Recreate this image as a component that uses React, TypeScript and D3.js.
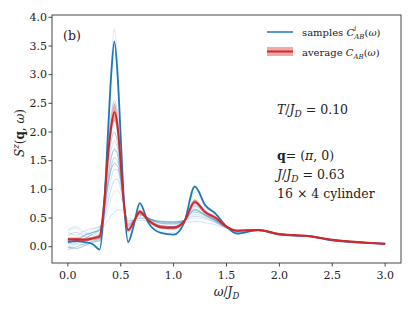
import React from 'react';
import * as d3 from 'd3';

// frequency grid shared by all curves
const omega = [0, 0.08, 0.16, 0.24, 0.3, 0.34, 0.38, 0.41, 0.44, 0.47, 0.5, 0.53, 0.57, 0.62, 0.68, 0.76, 0.88, 1.0, 1.1, 1.2, 1.3, 1.4, 1.5, 1.6, 1.8, 2.0, 2.3, 2.5, 2.75, 3.0];

// individual samples C^i_AB(w), light ones first
const sampleA = [0.02, 0.05, 0.03, 0.0, -0.04, 0.7, 2.2, 3.2, 3.8, 3.2, 2.0, 0.8, 0.1, 0.35, 0.72, 0.45, 0.27, 0.25, 0.45, 0.95, 0.7, 0.55, 0.36, 0.25, 0.29, 0.21, 0.18, 0.11, 0.07, 0.05];
const sampleB = [0.1, 0.14, 0.12, 0.12, 0.15, 0.8, 1.8, 2.3, 2.55, 2.3, 1.6, 0.8, 0.25, 0.4, 0.62, 0.48, 0.33, 0.31, 0.45, 0.82, 0.62, 0.5, 0.35, 0.27, 0.29, 0.22, 0.18, 0.12, 0.08, 0.05];
const sampleC = [0.2, 0.25, 0.18, 0.15, 0.2, 0.75, 1.6, 2.0, 2.2, 1.95, 1.45, 0.8, 0.3, 0.42, 0.6, 0.48, 0.36, 0.34, 0.45, 0.72, 0.6, 0.48, 0.34, 0.28, 0.29, 0.22, 0.18, 0.12, 0.08, 0.05];
const sampleD = [-0.05, 0.0, 0.05, 0.1, 0.12, 0.6, 1.45, 1.85, 2.0, 1.8, 1.35, 0.75, 0.32, 0.42, 0.62, 0.5, 0.37, 0.35, 0.45, 0.7, 0.58, 0.47, 0.34, 0.28, 0.29, 0.22, 0.18, 0.12, 0.08, 0.05];
const sampleE = [0.3, 0.35, 0.25, 0.2, 0.25, 0.7, 1.35, 1.7, 1.85, 1.7, 1.3, 0.75, 0.35, 0.44, 0.58, 0.5, 0.4, 0.38, 0.46, 0.66, 0.56, 0.46, 0.34, 0.28, 0.29, 0.22, 0.18, 0.12, 0.08, 0.05];
const sampleF = [0.15, 0.12, 0.2, 0.25, 0.28, 0.6, 1.2, 1.55, 1.7, 1.6, 1.25, 0.75, 0.38, 0.45, 0.56, 0.5, 0.41, 0.4, 0.46, 0.63, 0.55, 0.45, 0.34, 0.28, 0.29, 0.22, 0.18, 0.12, 0.08, 0.05];
const sampleG = [0.05, 0.08, 0.15, 0.22, 0.3, 0.55, 1.05, 1.4, 1.55, 1.5, 1.2, 0.75, 0.4, 0.45, 0.55, 0.5, 0.43, 0.42, 0.46, 0.6, 0.54, 0.44, 0.33, 0.28, 0.29, 0.22, 0.18, 0.12, 0.08, 0.05];
const sampleH = [0.25, 0.2, 0.28, 0.32, 0.35, 0.52, 0.9, 1.2, 1.35, 1.34, 1.1, 0.72, 0.42, 0.46, 0.52, 0.49, 0.44, 0.43, 0.46, 0.56, 0.52, 0.43, 0.33, 0.28, 0.29, 0.22, 0.18, 0.12, 0.08, 0.05];
const sampleI = [-0.02, 0.05, 0.12, 0.25, 0.33, 0.48, 0.78, 1.02, 1.16, 1.18, 1.0, 0.72, 0.45, 0.46, 0.5, 0.48, 0.44, 0.44, 0.46, 0.53, 0.5, 0.42, 0.33, 0.28, 0.29, 0.22, 0.18, 0.12, 0.08, 0.05];
const sampleJ = [0.28, 0.32, 0.22, 0.3, 0.36, 0.45, 0.65, 0.85, 0.96, 0.98, 0.88, 0.66, 0.45, 0.46, 0.49, 0.48, 0.45, 0.44, 0.45, 0.5, 0.48, 0.41, 0.33, 0.28, 0.29, 0.22, 0.18, 0.12, 0.08, 0.05];
const sampleK = [0.1, 0.15, 0.2, 0.26, 0.3, 0.36, 0.45, 0.54, 0.6, 0.64, 0.64, 0.58, 0.5, 0.47, 0.46, 0.45, 0.43, 0.42, 0.42, 0.44, 0.42, 0.38, 0.32, 0.28, 0.28, 0.22, 0.18, 0.12, 0.08, 0.05];
const sampleL = [0.0, -0.03, 0.02, 0.08, 0.1, 0.6, 1.1, 1.35, 1.45, 1.4, 1.15, 0.7, 0.35, 0.45, 0.58, 0.47, 0.36, 0.35, 0.45, 0.65, 0.55, 0.46, 0.34, 0.27, 0.29, 0.22, 0.18, 0.12, 0.08, 0.05];
// the strongest sample, drawn dark
const sampleDark = [0.08, 0.1, 0.08, 0.04, -0.05, 0.6, 2.0, 3.0, 3.58, 3.0, 1.9, 0.8, 0.08, 0.35, 0.76, 0.42, 0.24, 0.21, 0.42, 1.05, 0.72, 0.57, 0.35, 0.23, 0.29, 0.21, 0.18, 0.11, 0.07, 0.05];

const lightSamples = [sampleA, sampleB, sampleC, sampleD, sampleE, sampleF, sampleG, sampleH, sampleI, sampleJ, sampleK, sampleL];
const sampleOpacity = [0.15, 0.3, 0.25, 0.35, 0.2, 0.45, 0.3, 0.2, 0.25, 0.15, 0.2, 0.4];

// average C_AB(w) and its spread
const average = [0.13, 0.13, 0.12, 0.15, 0.18, 0.7, 1.6, 2.1, 2.35, 2.1, 1.45, 0.75, 0.29, 0.42, 0.61, 0.46, 0.34, 0.33, 0.44, 0.78, 0.6, 0.5, 0.35, 0.28, 0.29, 0.22, 0.18, 0.12, 0.08, 0.05];
const averageErr = [0.03, 0.03, 0.03, 0.03, 0.04, 0.06, 0.1, 0.14, 0.15, 0.14, 0.1, 0.06, 0.03, 0.03, 0.04, 0.03, 0.03, 0.03, 0.03, 0.04, 0.03, 0.03, 0.02, 0.02, 0.02, 0.02, 0.02, 0.02, 0.02, 0.02];

const xTicks = [0, 0.5, 1, 1.5, 2, 2.5, 3];
const yTicks = [0, 0.5, 1, 1.5, 2, 2.5, 3, 3.5, 4];

const W = 415;
const H = 311;
const L = 52, R = 401, T = 15, B = 263;
const serif = "'DejaVu Serif', serif";
const blue = '#1f77b4';
const red = '#d62728';
const axisCol = '#333';

export default function App() {
  const x = d3.scaleLinear().domain([-0.15, 3.15]).range([L, R]);
  const y = d3.scaleLinear().domain([-0.284, 4.04]).range([B, T]);

  const line = d3
    .line<number>()
    .x((_, i) => x(omega[i]))
    .y(d => y(d))
    .curve(d3.curveMonotoneX);

  const band = d3
    .area<number>()
    .x((_, i) => x(omega[i]))
    .y0((d, i) => y(d - averageErr[i]))
    .y1((d, i) => y(d + averageErr[i]))
    .curve(d3.curveMonotoneX);

  return (
    <svg width={W} height={H} style={{ position: 'absolute', left: 0, top: 0, background: '#fff', fontFamily: serif }}>
      <defs>
        <clipPath id="plot">
          <rect x={L} y={T} width={R - L} height={B - T} />
        </clipPath>
      </defs>

      <g clipPath="url(#plot)" fill="none">
        {lightSamples.map((s, i) => (
          <path key={i} d={line(s) || ''} stroke={blue} strokeOpacity={sampleOpacity[i]} strokeWidth={1} />
        ))}
        <path d={line(sampleDark) || ''} stroke={blue} strokeWidth={1.8} />
        <path d={band(average) || ''} fill={red} fillOpacity={0.4} stroke="none" />
        <path d={line(average) || ''} stroke={red} strokeWidth={2} />
      </g>

      {/* frame */}
      <rect x={L} y={T} width={R - L} height={B - T} fill="none" stroke={axisCol} strokeWidth={0.9} />

      {/* x axis */}
      {xTicks.map(t => (
        <g key={t} transform={`translate(${x(t)},${B})`}>
          <line y2={3.5} stroke={axisCol} strokeWidth={0.9} />
          <text y={16} textAnchor="middle" fontSize={11} fill="#222">{t.toFixed(1)}</text>
        </g>
      ))}
      {/* y axis */}
      {yTicks.map(t => (
        <g key={t} transform={`translate(${L},${y(t)})`}>
          <line x2={-3.5} stroke={axisCol} strokeWidth={0.9} />
          <text x={-5} dy="0.34em" textAnchor="end" fontSize={11} fill="#222">{t.toFixed(1)}</text>
        </g>
      ))}

      {/* axis labels */}
      <text x={(L + R) / 2} y={296} textAnchor="middle" fontSize={12} fill="#222">
        <tspan fontStyle="italic">ω</tspan>/<tspan fontStyle="italic">J</tspan>
        <tspan fontStyle="italic" fontSize={8.5} dy={3}>D</tspan>
      </text>
      <text transform={`translate(24,${(T + B) / 2 - 6}) rotate(-90)`} textAnchor="middle" fontSize={12} fill="#222">
        <tspan fontStyle="italic">S</tspan>
        <tspan fontStyle="italic" fontSize={8.5} dy={-5}>z</tspan>
        <tspan dy={5}>(</tspan>
        <tspan fontWeight="bold">q</tspan>, <tspan fontStyle="italic">ω</tspan>)
      </text>

      <text x={63} y={40} fontSize={12.5} fill="#222">(b)</text>

      {/* legend */}
      <line x1={267} x2={293} y1={32} y2={32} stroke={blue} strokeWidth={1.5} />
      <text x={302} y={36} fontSize={10} fill="#222">
        samples <tspan fontStyle="italic">C</tspan>
        <tspan fontStyle="italic" fontSize={7} dy={-5}>i</tspan>
        <tspan fontStyle="italic" fontSize={7} dx={-2} dy={8}>AB</tspan>
        <tspan dy={-3}>(</tspan><tspan fontStyle="italic">ω</tspan>)
      </text>
      <rect x={267} y={47} width={26} height={9} fill={red} fillOpacity={0.4} />
      <line x1={267} x2={293} y1={51.5} y2={51.5} stroke={red} strokeWidth={2} />
      <text x={302} y={56} fontSize={10} fill="#222">
        average <tspan fontStyle="italic">C</tspan>
        <tspan fontStyle="italic" fontSize={7} dy={3}>AB</tspan>
        <tspan dy={-3}>(</tspan><tspan fontStyle="italic">ω</tspan>)
      </text>

      {/* annotations */}
      <g fontSize={12.5} fill="#222">
        <text x={277} y={114}>
          <tspan fontStyle="italic">T</tspan>/<tspan fontStyle="italic">J</tspan>
          <tspan fontStyle="italic" fontSize={9} dy={3}>D</tspan>
          <tspan dy={-3}> = 0.10</tspan>
        </text>
        <text x={277} y={160}>
          <tspan fontWeight="bold">q</tspan>= (<tspan fontStyle="italic">π</tspan>, 0)
        </text>
        <text x={277} y={179}>
          <tspan fontStyle="italic">J</tspan>/<tspan fontStyle="italic">J</tspan>
          <tspan fontStyle="italic" fontSize={9} dy={3}>D</tspan>
          <tspan dy={-3}> = 0.63</tspan>
        </text>
        <text x={277} y={198}>16 × 4 cylinder</text>
      </g>
    </svg>
  );
}
